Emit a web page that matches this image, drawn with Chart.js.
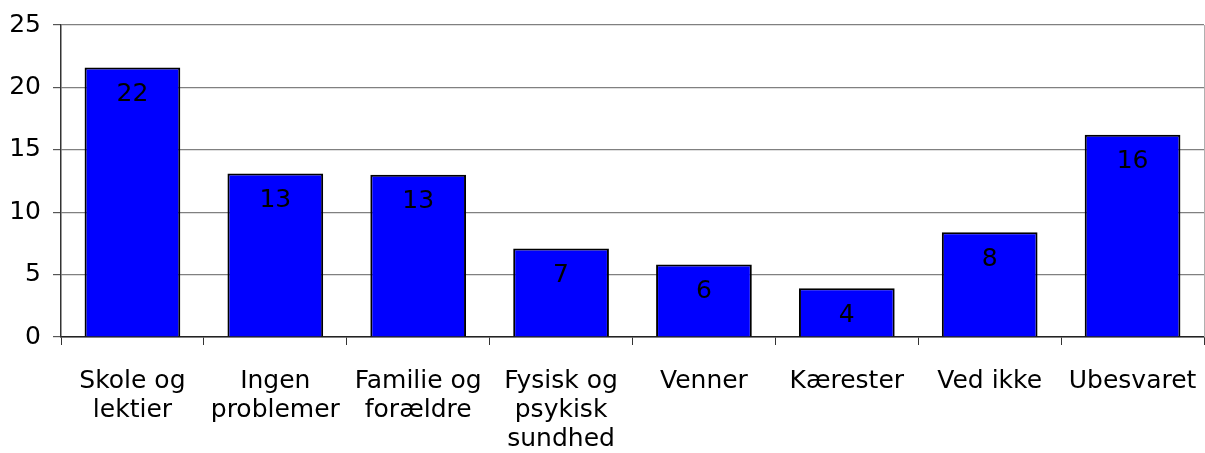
<!DOCTYPE html>
<html>
<head>
<meta charset="utf-8">
<script src="https://cdn.jsdelivr.net/npm/chart.js@4"></script>
<style>
  body { margin: 0; background: #fff; }
  #wrap { width: 1205px; height: 453px; }
</style>
</head>
<body>
<div id="wrap"><canvas id="myChart" width="1205" height="453"></canvas></div>
<script>
// categories (multi-line labels) and values
const categories = [
  ["Skole og", "lektier"],
  ["Ingen", "problemer"],
  ["Familie og", "forældre"],
  ["Fysisk og", "psykisk", "sundhed"],
  ["Venner"],
  ["Kærester"],
  ["Ved ikke"],
  ["Ubesvaret"],
];
const values = [21.6, 13.1, 13.0, 7.1, 5.8, 3.9, 8.4, 16.2];
const yTicks = [0, 5, 10, 15, 20, 25];

const fontFamily = "'DejaVu Sans', Verdana, sans-serif";

// value label inside each bar, near the top
const barLabels = {
  id: "barLabels",
  afterDatasetsDraw(chart) {
    const ctx = chart.ctx;
    const meta = chart.getDatasetMeta(0);
    ctx.save();
    ctx.font = "25px " + fontFamily;
    ctx.fillStyle = "#000";
    ctx.textAlign = "center";
    ctx.textBaseline = "middle";
    meta.data.forEach((bar, i) => {
      ctx.fillText(Math.round(values[i]), bar.x, bar.y + 27);
    });
    ctx.restore();
  },
};

// light right border of the plot area
const rightBorder = {
  id: "rightBorder",
  beforeDatasetsDraw(chart) {
    const { ctx, chartArea } = chart;
    ctx.save();
    ctx.strokeStyle = "#b0b0b0";
    ctx.lineWidth = 1;
    ctx.beginPath();
    ctx.moveTo(chartArea.right + 0.5, chartArea.top);
    ctx.lineTo(chartArea.right + 0.5, chartArea.bottom);
    ctx.stroke();
    ctx.restore();
  },
};

const config = {
  type: "bar",
  data: {
    labels: categories,
    datasets: [
      {
        data: values,
        backgroundColor: "#0000ff",
        borderColor: "#000",
        borderWidth: 2,
        categoryPercentage: 1,
        barPercentage: 0.67,
      },
    ],
  },
  options: {
    responsive: false,
    animation: false,
    layout: { padding: { top: 25, right: 1, left: 0, bottom: 0 } },
    plugins: { legend: { display: false }, tooltip: { enabled: false } },
    scales: {
      x: {
        offset: true,
        grid: {
          offset: true,
          drawOnChartArea: false,
          drawTicks: true,
          tickLength: 8,
          color: "#333",
        },
        border: { color: "#222", width: 1.5 },
        ticks: {
          color: "#000",
          font: { family: fontFamily, size: 25, lineHeight: 1.16 },
          padding: 22,
          maxRotation: 0,
          autoSkip: false,
        },
        afterFit(scale) {
          scale.height = 116;
          scale.paddingLeft = 0;
          scale.paddingRight = 0;
        },
      },
      y: {
        min: 0,
        max: 25,
        afterBuildTicks(scale) {
          scale.ticks = yTicks.map((v) => ({ value: v }));
        },
        grid: {
          color: "#808080",
          lineWidth: 1.2,
          tickLength: 8,
          tickColor: "#555",
        },
        border: { color: "#333", width: 1.5 },
        ticks: {
          color: "#000",
          font: { family: fontFamily, size: 25 },
          padding: 12,
        },
        afterFit(scale) {
          scale.width = 61;
          scale.paddingTop = 0;
          scale.paddingBottom = 0;
        },
      },
    },
  },
  plugins: [rightBorder, barLabels],
};

new Chart(document.getElementById("myChart"), config);
</script>
</body>
</html>
